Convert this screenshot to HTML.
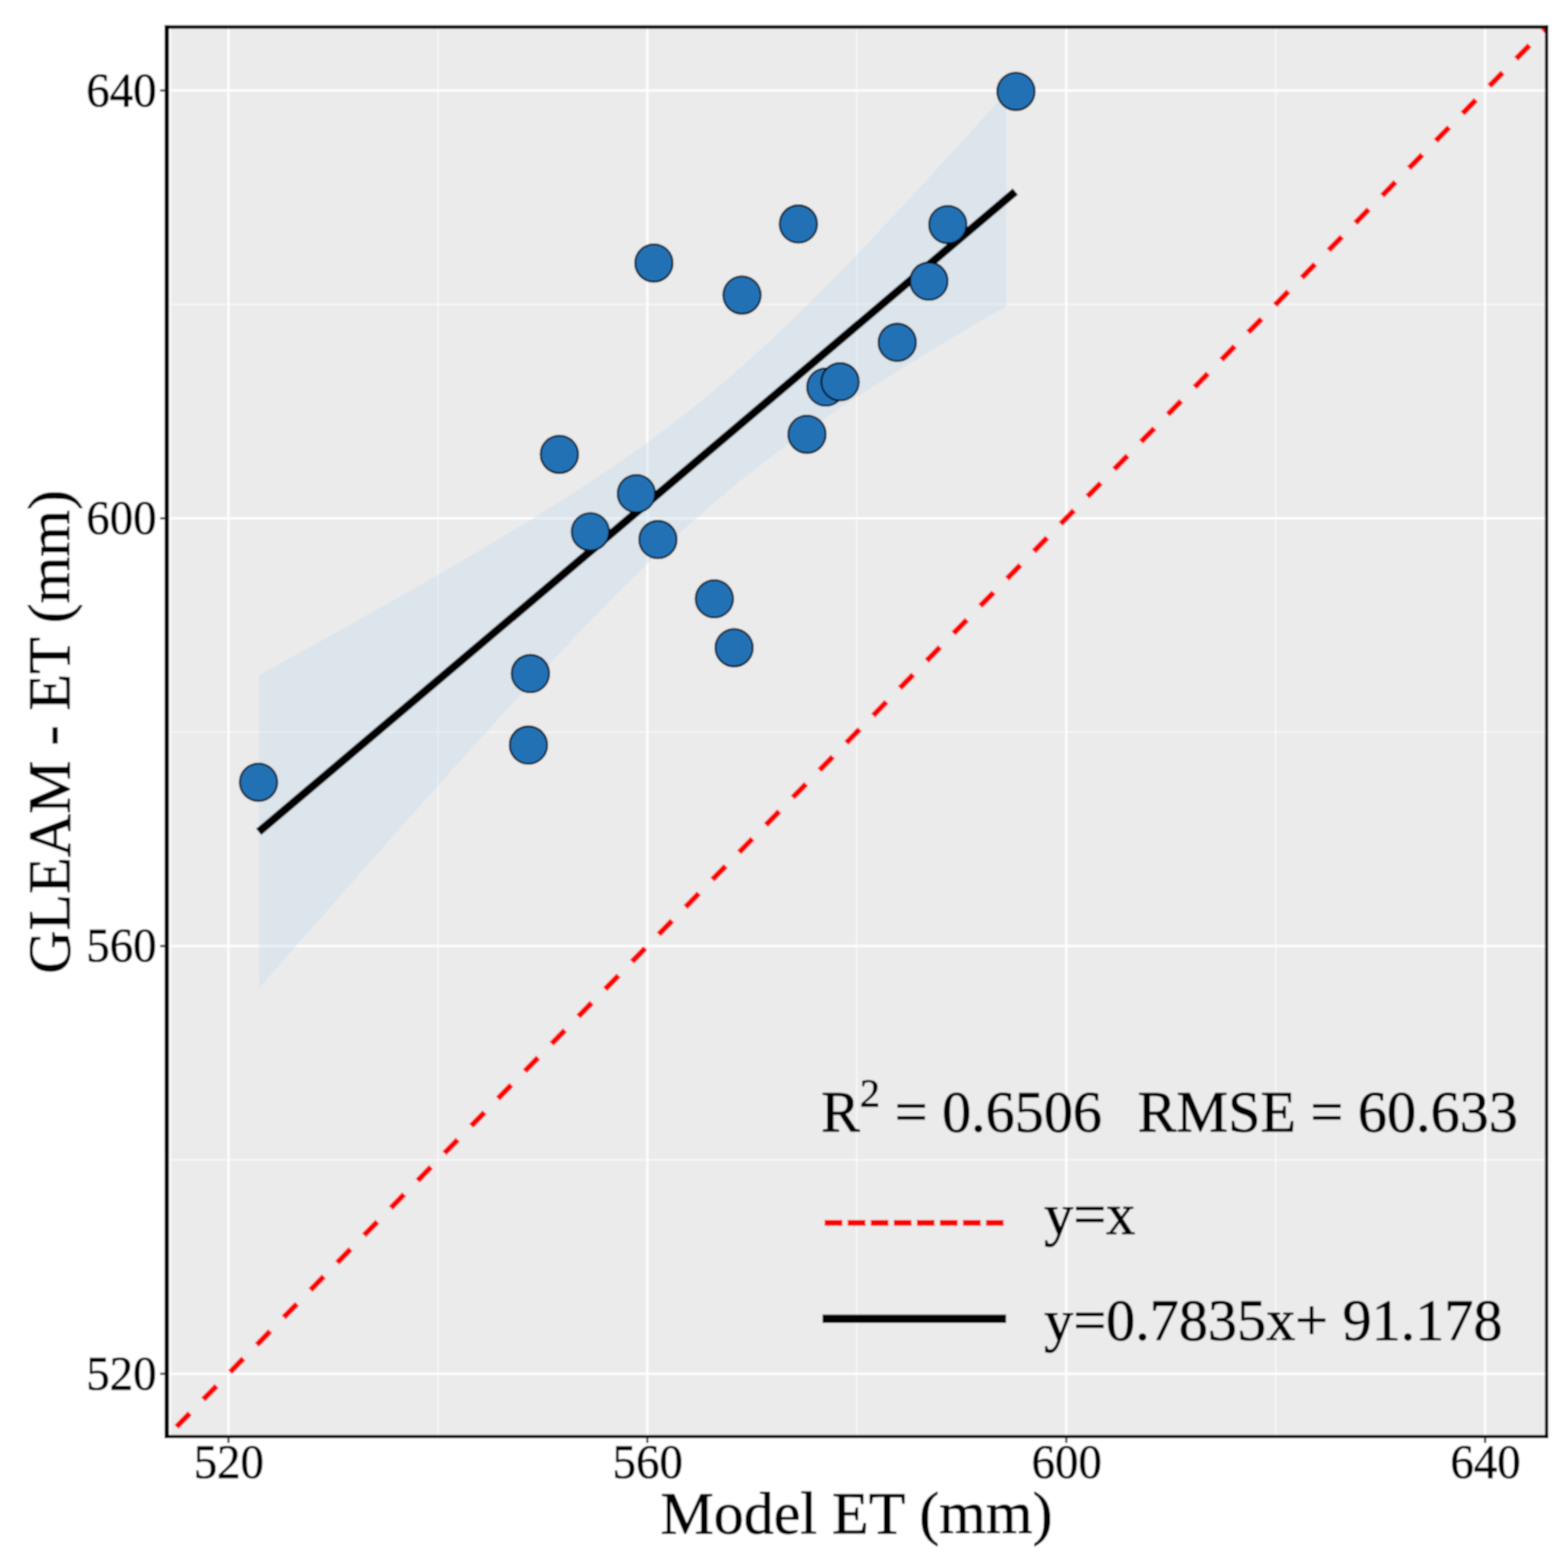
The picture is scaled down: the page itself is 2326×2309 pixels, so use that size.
<!DOCTYPE html>
<html lang="en"><head><meta charset="utf-8"><title>GLEAM - ET vs Model ET</title>
<style>
html,body{margin:0;padding:0;background:#fff;}
body{width:2326px;height:2309px;overflow:hidden;}
svg{display:block;}
text{font-family:"Liberation Serif",serif;fill:#000;stroke:#000;stroke-width:1.1px;stroke-linejoin:round;}
.tk{font-size:71.5px;}
.ti{font-size:89px;}
.lg{font-size:86.3px;}
</style></head><body>
<svg width="2326" height="2309" viewBox="0 0 2326 2309">
<filter id="soft" filterUnits="userSpaceOnUse" x="0" y="0" width="2326" height="2309"><feGaussianBlur stdDeviation="1"/></filter>
<g filter="url(#soft)">
<rect x="-20" y="-20" width="2366" height="2349" fill="#ffffff"/>
<defs><clipPath id="pc"><rect x="245" y="38" width="2051.5" height="2094"/></clipPath></defs>
<rect x="245" y="38" width="2051.5" height="2094" fill="#ebebeb"/>
<g clip-path="url(#pc)">
<g stroke="#ffffff" stroke-width="1.6" stroke-opacity="0.85" fill="none">
<line x1="649.6" y1="38" x2="649.6" y2="2132"/>
<line x1="245" y1="1720.1" x2="2296.5" y2="1720.1"/>
<line x1="1271.0" y1="38" x2="1271.0" y2="2132"/>
<line x1="245" y1="1085.8" x2="2296.5" y2="1085.8"/>
<line x1="1892.4" y1="38" x2="1892.4" y2="2132"/>
<line x1="245" y1="451.4" x2="2296.5" y2="451.4"/>
</g>
<g stroke="#ffffff" stroke-width="3.2" fill="none">
<line x1="338.9" y1="38" x2="338.9" y2="2132"/>
<line x1="245" y1="2037.3" x2="2296.5" y2="2037.3"/>
<line x1="960.3" y1="38" x2="960.3" y2="2132"/>
<line x1="245" y1="1402.9" x2="2296.5" y2="1402.9"/>
<line x1="1581.7" y1="38" x2="1581.7" y2="2132"/>
<line x1="245" y1="768.6" x2="2296.5" y2="768.6"/>
<line x1="2203.1" y1="38" x2="2203.1" y2="2132"/>
<line x1="245" y1="134.2" x2="2296.5" y2="134.2"/>
</g>
<polygon points="384.2,1001.1 411.9,985.8 439.6,970.5 467.4,955.1 495.1,939.7 522.8,924.2 550.5,908.6 578.2,893.0 606.0,877.2 633.7,861.4 661.4,845.4 689.1,829.2 716.8,812.9 744.6,796.4 772.3,779.6 800.0,762.6 827.7,745.2 855.4,727.5 883.2,709.3 910.9,690.6 938.6,671.4 966.3,651.4 994.0,630.7 1021.8,609.2 1049.5,586.8 1077.2,563.5 1104.9,539.2 1132.6,514.1 1160.4,488.1 1188.1,461.3 1215.8,433.8 1243.5,405.8 1271.2,377.1 1299.0,348.1 1326.7,318.6 1354.4,288.8 1382.1,258.8 1409.8,228.4 1437.6,197.9 1465.3,167.2 1493.0,136.3 1493.0,454.2 1465.3,470.3 1437.6,486.5 1409.8,502.8 1382.1,519.4 1354.4,536.3 1326.7,553.4 1299.0,570.8 1271.2,588.7 1243.5,606.9 1215.8,625.8 1188.1,645.2 1160.4,665.4 1132.6,686.3 1104.9,708.0 1077.2,730.7 1049.5,754.2 1021.8,778.7 994.0,804.1 966.3,830.3 938.6,857.3 910.9,884.9 883.2,913.1 855.4,941.9 827.7,971.0 800.0,1000.6 772.3,1030.5 744.6,1060.6 716.8,1091.0 689.1,1121.6 661.4,1152.3 633.7,1183.2 606.0,1214.3 578.2,1245.4 550.5,1276.7 522.8,1308.0 495.1,1339.4 467.4,1370.9 439.6,1402.4 411.9,1434.0 384.2,1465.7" fill="#c6dbef" fill-opacity="0.36"/>
<line x1="383.8" y1="1233.7" x2="1506.1" y2="284.2" stroke="#000" stroke-width="12"/>
<line x1="261.8" y1="2116.0" x2="2358.4" y2="-24.4" stroke="#ff0000" stroke-width="8.2" stroke-dasharray="28.2 28.6"/>
<g fill="#2171b5" stroke="#000" stroke-width="2.6">
<circle cx="383.5" cy="1160.1" r="27.8"/>
<circle cx="783.9" cy="1104.9" r="27.8"/>
<circle cx="786.8" cy="998.9" r="27.8"/>
<circle cx="829.8" cy="673.8" r="27.8"/>
<circle cx="875.8" cy="788.6" r="27.8"/>
<circle cx="944.0" cy="732.0" r="27.8"/>
<circle cx="976.0" cy="800.2" r="27.8"/>
<circle cx="970.0" cy="390.1" r="27.8"/>
<circle cx="1059.7" cy="888.0" r="27.8"/>
<circle cx="1089.0" cy="960.6" r="27.8"/>
<circle cx="1100.7" cy="437.6" r="27.8"/>
<circle cx="1184.4" cy="332.2" r="27.8"/>
<circle cx="1197.1" cy="644.1" r="27.8"/>
<circle cx="1225.0" cy="574.0" r="27.8"/>
<circle cx="1246.3" cy="566.2" r="27.8"/>
<circle cx="1331.0" cy="507.7" r="27.8"/>
<circle cx="1377.9" cy="416.9" r="27.8"/>
<circle cx="1406.0" cy="333.1" r="27.8"/>
<circle cx="1507.1" cy="135.6" r="27.8"/>
</g>
</g>
<rect x="251.0" y="42" width="2.6" height="2086.5" fill="#ffffff"/>
<rect x="2287.6" y="42" width="1.5" height="2086.5" fill="#ffffff" fill-opacity="0.35"/>
<g fill="#000">
<rect x="244.0" y="37.5" width="6.6" height="2095.2"/>
<rect x="244.0" y="37.4" width="2052.5" height="5.2"/>
<rect x="244.0" y="2127.9" width="2052.6" height="4.8"/>
<rect x="2291.8" y="37.5" width="4.8" height="2095.2"/>
</g>
<g stroke="#333" stroke-width="3.2">
<line x1="338.9" y1="2131.5" x2="338.9" y2="2139.8"/>
<line x1="237.6" y1="2037.3" x2="244.8" y2="2037.3"/>
<line x1="960.3" y1="2131.5" x2="960.3" y2="2139.8"/>
<line x1="237.6" y1="1402.9" x2="244.8" y2="1402.9"/>
<line x1="1581.7" y1="2131.5" x2="1581.7" y2="2139.8"/>
<line x1="237.6" y1="768.6" x2="244.8" y2="768.6"/>
<line x1="2203.1" y1="2131.5" x2="2203.1" y2="2139.8"/>
<line x1="237.6" y1="134.2" x2="244.8" y2="134.2"/>
</g>
<text class="tk" x="339.5" y="2192.3" text-anchor="middle" textLength="104.2" lengthAdjust="spacingAndGlyphs">520</text>
<text class="tk" x="232.3" y="2060.7" text-anchor="end" textLength="104.2" lengthAdjust="spacingAndGlyphs">520</text>
<text class="tk" x="960.9" y="2192.3" text-anchor="middle" textLength="104.2" lengthAdjust="spacingAndGlyphs">560</text>
<text class="tk" x="232.3" y="1426.3" text-anchor="end" textLength="104.2" lengthAdjust="spacingAndGlyphs">560</text>
<text class="tk" x="1582.3" y="2192.3" text-anchor="middle" textLength="104.2" lengthAdjust="spacingAndGlyphs">600</text>
<text class="tk" x="232.3" y="792.0" text-anchor="end" textLength="104.2" lengthAdjust="spacingAndGlyphs">600</text>
<text class="tk" x="2203.7" y="2192.3" text-anchor="middle" textLength="104.2" lengthAdjust="spacingAndGlyphs">640</text>
<text class="tk" x="232.3" y="157.6" text-anchor="end" textLength="104.2" lengthAdjust="spacingAndGlyphs">640</text>
<text class="ti" x="1270.6" y="2274.4" text-anchor="middle">Model ET (mm)</text>
<text class="ti" transform="translate(102.6,1085.4) rotate(-90)" text-anchor="middle">GLEAM - ET (mm)</text>
<text class="lg" x="1218" y="1678">R<tspan dy="-37" font-size="60px">2</tspan><tspan dy="37"> = 0.6506</tspan></text>
<text class="lg" x="1687.5" y="1678">RMSE = 60.633</text>
<line x1="1223.3" y1="1813.4" x2="1488.6" y2="1813.4" stroke="#ff0000" stroke-width="8.8" stroke-dasharray="26.2 8.0"/>
<text class="lg" x="1549" y="1829.6">y=x</text>
<line x1="1220.2" y1="1955.7" x2="1492.4" y2="1955.7" stroke="#000" stroke-width="12.6"/>
<text class="lg" x="1549" y="1987.2">y=0.7835x+ 91.178</text>
</g>
</svg>
</body></html>
